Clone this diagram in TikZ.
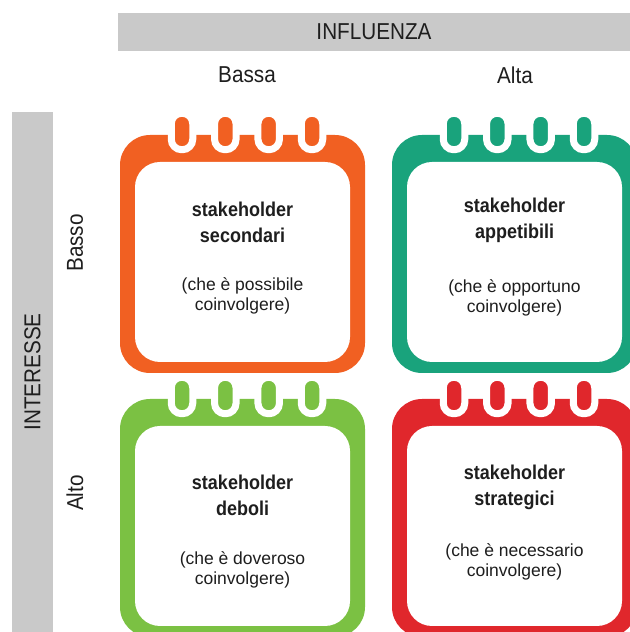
\documentclass[tikz,border=0pt]{standalone}
\usepackage{fontspec}
\setmainfont{Liberation Sans}
\newfontfamily\axisfont[FakeStretch=0.9]{Liberation Sans}
\newfontfamily\cardfont[FakeStretch=0.9]{Liberation Sans}
\usepackage{tikz}
\usetikzlibrary{positioning}

\definecolor{secondari}{RGB}{241,96,34}
\definecolor{appetibili}{RGB}{25,163,124}
\definecolor{deboli}{RGB}{123,193,67}
\definecolor{strategici}{RGB}{224,39,44}
\definecolor{bargray}{RGB}{201,201,201}
\definecolor{inkgray}{RGB}{30,30,30}

\tikzset{
  bar/.style={fill=bargray,inner sep=0pt,text=inkgray,font=\axisfont\fontsize{23bp}{27bp}\selectfont},
  axislabel/.style={inner sep=0pt,text=inkgray,font=\axisfont\fontsize{23bp}{27bp}\selectfont},
  cardbody/.style={rounded corners=30bp,minimum width=245bp,minimum height=238bp,inner sep=0pt},
  cardinside/.style={fill=white,rounded corners=25bp,minimum width=215bp,minimum height=200bp,inner sep=0pt},
  ring/.style={draw=white,line width=7bp,rounded corners=10.5bp,minimum width=21.5bp,minimum height=36.5bp,inner sep=0pt},
  cardtitle/.style={align=center,inner sep=0pt,text=inkgray,font=\cardfont\bfseries\fontsize{20bp}{26bp}\selectfont},
  cardnote/.style={align=center,inner sep=0pt,text=inkgray,font=\fontsize{17.5bp}{20bp}\selectfont}
}

\begin{document}
\begin{tikzpicture}
\useasboundingbox (0bp,0bp) rectangle (630bp,632bp);
\clip (0bp,0bp) rectangle (630bp,632bp);
% axes
\node (influenza) at (374bp,600bp) [bar,minimum width=512bp,minimum height=38bp] {INFLUENZA};
\node (interesse) at (32.5bp,260bp) [bar,minimum width=520bp,minimum height=41bp,rotate=90] {INTERESSE};
\node (bassa) at (247bp,557bp) [axislabel] {Bassa};
\node (alta) at (515bp,557bp) [axislabel] {Alta};
\node (basso) at (75bp,389bp) [axislabel,rotate=90] {Basso};
\node (alto) at (75bp,139bp) [axislabel,rotate=90] {Alto};
% cards
\node (sec) at (242.5bp,378bp) [cardbody,fill=secondari] {};
\node (app) at (514.5bp,378bp) [cardbody,fill=appetibili] {};
\node (deb) at (242.5bp,114bp) [cardbody,fill=deboli] {};
\node (str) at (514.5bp,114bp) [cardbody,fill=strategici] {};
\node (sec-in) at (242.5bp,370bp) [cardinside] {};
\node (app-in) at (514.5bp,370bp) [cardinside] {};
\node (deb-in) at (242.5bp,106bp) [cardinside] {};
\node (str-in) at (514.5bp,106bp) [cardinside] {};
% calendar rings
\foreach \card/\col in {sec/secondari,app/appetibili,deb/deboli,str/strategici}
  \foreach \dx [count=\i] in {-60.5,-17.2,26.2,69.5}
    \node (\card-ring\i) at ([xshift=\dx bp,yshift=122.5bp]\card.center) [ring,fill=\col] {};
% texts
\node (sec-title) at (242.5bp,409.5bp) [cardtitle] {stakeholder\\secondari};
\node (sec-note) at (242.5bp,336.5bp) [cardnote] {(che è possibile\\coinvolgere)};
\node (app-title) at (514.5bp,411.5bp) [cardtitle] {stakeholder\\appetibili};
\node (app-note) at (514.5bp,334bp) [cardnote] {(che è opportuno\\coinvolgere)};
\node (deb-title) at (242.5bp,137bp) [cardtitle] {stakeholder\\deboli};
\node (deb-note) at (242.5bp,62bp) [cardnote] {(che è doveroso\\coinvolgere)};
\node (str-title) at (514.5bp,144.5bp) [cardtitle] {stakeholder\\strategici};
\node (str-note) at (514.5bp,70.5bp) [cardnote] {(che è necessario\\coinvolgere)};
\end{tikzpicture}
\end{document}
